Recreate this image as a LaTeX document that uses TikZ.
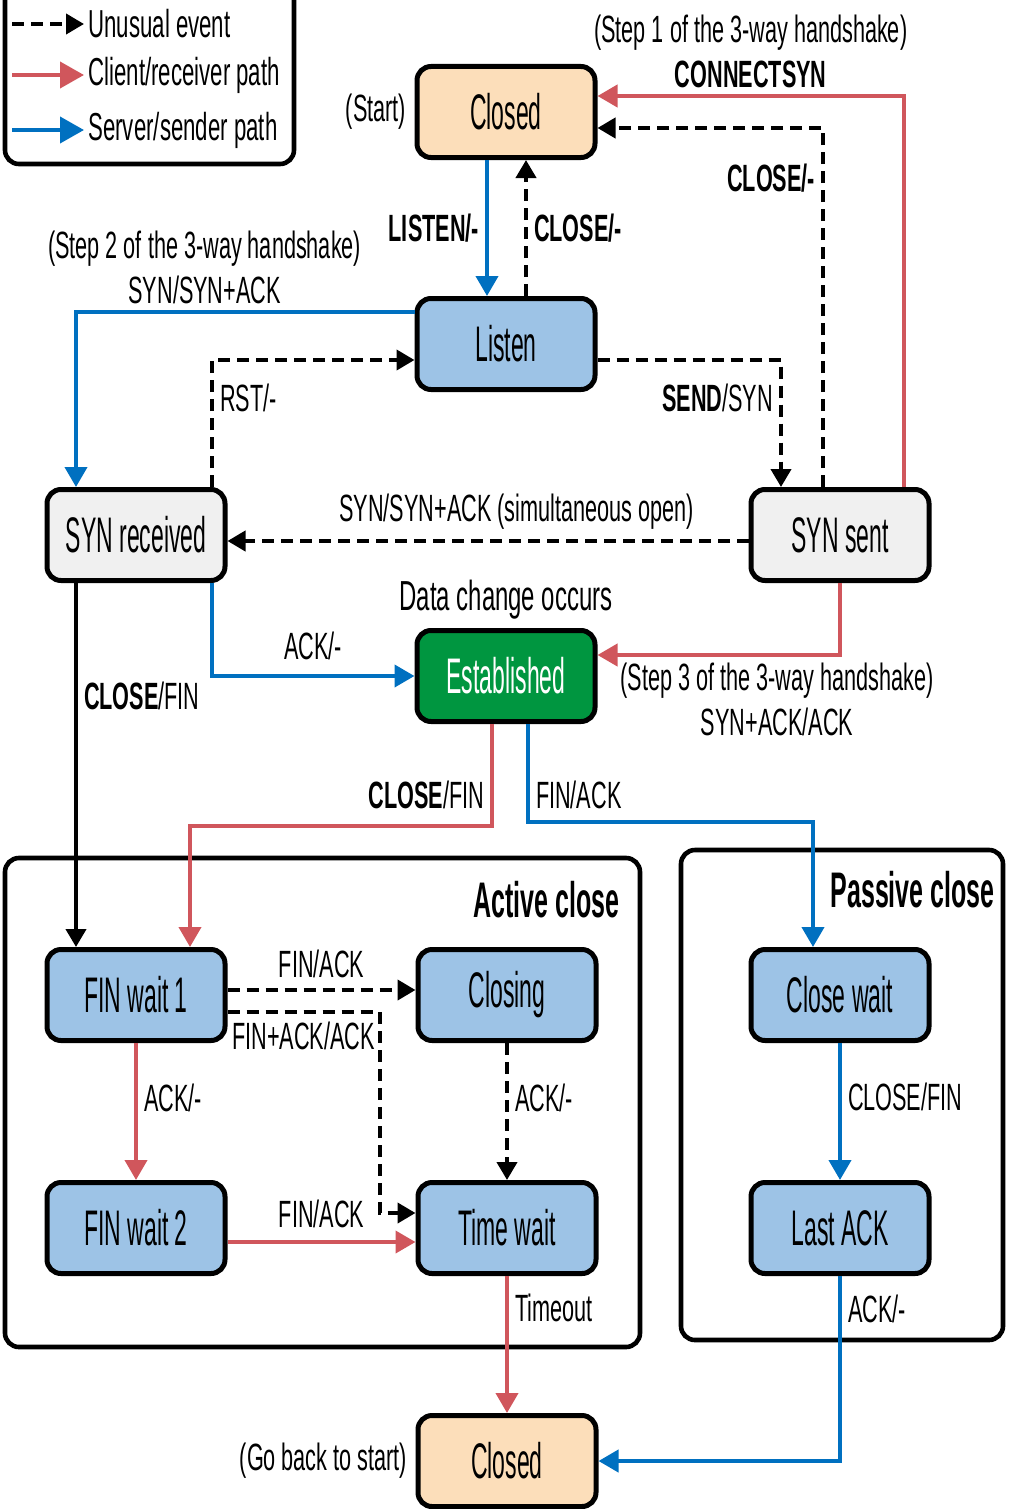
\documentclass[tikz,border=0pt]{standalone}
\usepackage{fontspec}
\setmainfont{Liberation Sans}[FakeStretch=0.57]
\newfontfamily\statefont{Liberation Sans}[FakeStretch=0.46]
\newfontfamily\titlefont{Liberation Sans}[FakeStretch=0.5]
\usepackage{tikz}
\usetikzlibrary{arrows.meta,positioning,calc}
\definecolor{peach}{RGB}{252,222,186}
\definecolor{stateblue}{RGB}{157,195,230}
\definecolor{stategray}{RGB}{240,240,240}
\definecolor{estgreen}{RGB}{0,150,64}
\definecolor{clientred}{RGB}{208,86,92}
\definecolor{serverblue}{RGB}{0,112,192}
\tikzstyle{tcpstate}=[draw,line width=2.5pt,rounded corners=7pt,minimum width=89pt,minimum height=45.5pt,inner sep=0pt,font=\statefont\fontsize{25}{29}\selectfont]
\tikzstyle{redpath}=[draw=clientred,line width=2pt,-{Triangle[length=10pt,width=11pt]}]
\tikzstyle{bluepath}=[draw=serverblue,line width=2pt,-{Triangle[length=10pt,width=11pt]}]
\tikzstyle{oddpath}=[draw=black,line width=2pt,dash pattern=on 6pt off 3.5pt,-{Triangle[length=9pt,width=10pt]}]
\tikzstyle{plainpath}=[draw=black,line width=2pt,-{Triangle[length=9pt,width=10pt]}]
\tikzstyle{groupbox}=[draw,line width=2.3pt,rounded corners=7pt]
\tikzstyle{grptitle}=[inner sep=2pt,font=\titlefont\bfseries\fontsize{25}{30}\selectfont]
\tikzstyle{lbl}=[inner sep=2pt]
\tikzstyle{legendlbl}=[inner sep=2pt,anchor=west,font=\fontsize{19.5}{23}\selectfont]

\begin{document}
\begin{tikzpicture}[x=0.5pt,y=-0.5pt,font=\fontsize{19}{22.5}\selectfont]
\useasboundingbox (0,0) rectangle (1008,1509);

% legend
\draw[groupbox] (5,-20) rectangle (294,164);
\node[legendlbl] (lgodd) at (84,24) {Unusual event};
\node[legendlbl] (lgred) at (84,75) {Client/receiver path};
\node[legendlbl] (lgblue) at (84,130) {Server/sender path};
\coordinate (lgodds) at (12,24);
\coordinate (lgreds) at (12,75);
\coordinate (lgblues) at (12,130);
\draw[oddpath] (lgodds) -- (lgodd);
\draw[redpath,-{Triangle[length=12pt,width=13pt]}] (lgreds) -- (lgred);
\draw[bluepath,-{Triangle[length=12pt,width=13pt]}] (lgblues) -- (lgblue);

% close groups
\draw[groupbox] (5,858) rectangle (640,1347);
\draw[groupbox] (681,850) rectangle (1003,1340);
\node[grptitle,anchor=east] (activettl) at (624,900) {Active close};
\node[grptitle,anchor=east] (passivettl) at (999,890) {Passive close};

% states
\node[tcpstate,fill=peach] (closedtop) at (506,112) {Closed};
\node[tcpstate,fill=stateblue] (listen) at (506,344) {Listen};
\node[tcpstate,fill=stategray] (synrcvd) at (136,535) {SYN received};
\node[tcpstate,fill=stategray] (synsent) at (840,535) {SYN sent};
\node[tcpstate,fill=estgreen,text=white] (estab) at (506,676) {Established};
\node[tcpstate,fill=stateblue] (finwaita) at (136,995) {FIN wait 1};
\node[tcpstate,fill=stateblue] (closing) at (507,995) {Closing};
\node[tcpstate,fill=stateblue] (finwaitb) at (136,1228) {FIN wait 2};
\node[tcpstate,fill=stateblue] (timewait) at (507,1228) {Time wait};
\node[tcpstate,fill=stateblue] (closewait) at (840,995) {Close wait};
\node[tcpstate,fill=stateblue] (lastack) at (840,1228) {Last ACK};
\node[tcpstate,fill=peach] (closedbot) at (507,1461) {Closed};

\node[lbl,left=2pt of closedtop] (startlbl) {(Start)};
\node[lbl,left=2pt of closedbot] (backlbl) {(Go back to start)};
\node[lbl,above=2pt of estab,font=\fontsize{21}{25}\selectfont] (datachg) {Data change occurs};

% opening
\draw[bluepath] ([xshift=-9.5pt]closedtop.south) -- ([xshift=-9.5pt]listen.north) node[lbl,midway,left=1pt]{\textbf{LISTEN/-}};
\draw[oddpath] ([xshift=10pt]listen.north) -- ([xshift=10pt]closedtop.south) node[lbl,midway,right=1pt]{\textbf{CLOSE/-}};
\draw[redpath] ([xshift=32pt]synsent.north) |- ([yshift=8pt]closedtop.east) node[lbl,pos=0.75,above=1pt,align=center]{(Step 1 of the 3-way handshake)\\\textbf{CONNECTSYN}};
\draw[oddpath] ([xshift=-8.5pt]synsent.north) |- ([yshift=-8pt]closedtop.east) node[lbl,pos=0.43,left=1pt]{\textbf{CLOSE/-}};
\draw[bluepath] ([yshift=16pt]listen.west) -| ([xshift=-30pt]synrcvd.north) node[lbl,pos=0.31,above=1pt,align=center]{(Step 2 of the 3-way handshake)\\SYN/SYN+ACK};
\draw[oddpath] ([xshift=38pt]synrcvd.north) |- ([yshift=-8pt]listen.west) node[lbl,pos=0.35,right=1pt]{RST/-};
\draw[oddpath] ([yshift=-8pt]listen.east) -| ([xshift=-29.5pt]synsent.north) node[lbl,pos=0.65,left=1pt]{\textbf{SEND}/SYN};
\draw[oddpath] ([yshift=-3pt]synsent.west) -- ([yshift=-3pt]synrcvd.east) node[lbl,pos=0.445,above=3pt]{SYN/SYN+ACK (simultaneous open)};
\draw[bluepath] ([xshift=38pt]synrcvd.south) |- (estab.west) node[lbl,pos=0.75,above=5pt]{ACK/-};
\draw[redpath] (synsent.south) |- ([yshift=10.5pt]estab.east) node[lbl,pos=0.63,below=1pt,align=center]{(Step 3 of the 3-way handshake)\\SYN+ACK/ACK};

% closing
\draw[plainpath] ([xshift=-30pt]synrcvd.south) -- ([xshift=-30pt]finwaita.north) node[lbl,pos=0.31,right=1pt]{\textbf{CLOSE}/FIN};
\draw[redpath] ([xshift=-7pt]estab.south) -- ++(0,102) node[lbl,pos=0.7,left=1pt]{\textbf{CLOSE}/FIN} -| ([xshift=27pt]finwaita.north);
\draw[bluepath] ([xshift=11pt]estab.south) -- ++(0,98) node[lbl,pos=0.72,right=1pt]{FIN/ACK} -| ([xshift=-13.5pt]closewait.north);
\draw[oddpath] ([yshift=2.5pt]finwaita.east) -- ([yshift=2.5pt]closing.west) node[lbl,midway,above=3pt]{FIN/ACK};
\draw[oddpath] ([yshift=-8.5pt]finwaita.east) -- ++(152,0) node[lbl,midway,below=2pt]{FIN+ACK/ACK} |- ([yshift=7.5pt]timewait.west);
\draw[redpath] (finwaita.south) -- (finwaitb.north) node[lbl,pos=0.4,right=1pt]{ACK/-};
\draw[oddpath] (closing.south) -- (timewait.north) node[lbl,pos=0.4,right=1pt]{ACK/-};
\draw[redpath] ([yshift=-7pt]finwaitb.east) -- ([yshift=-7pt]timewait.west) node[lbl,midway,above=4pt]{FIN/ACK};
\draw[bluepath] (closewait.south) -- (lastack.north) node[lbl,pos=0.39,right=1pt]{CLOSE/FIN};
\draw[redpath] (timewait.south) -- (closedbot.north) node[lbl,pos=0.23,right=1pt]{Timeout};
\draw[bluepath] (lastack.south) |- (closedbot.east) node[lbl,pos=0.09,right=1pt]{ACK/-};
\end{tikzpicture}
\end{document}
